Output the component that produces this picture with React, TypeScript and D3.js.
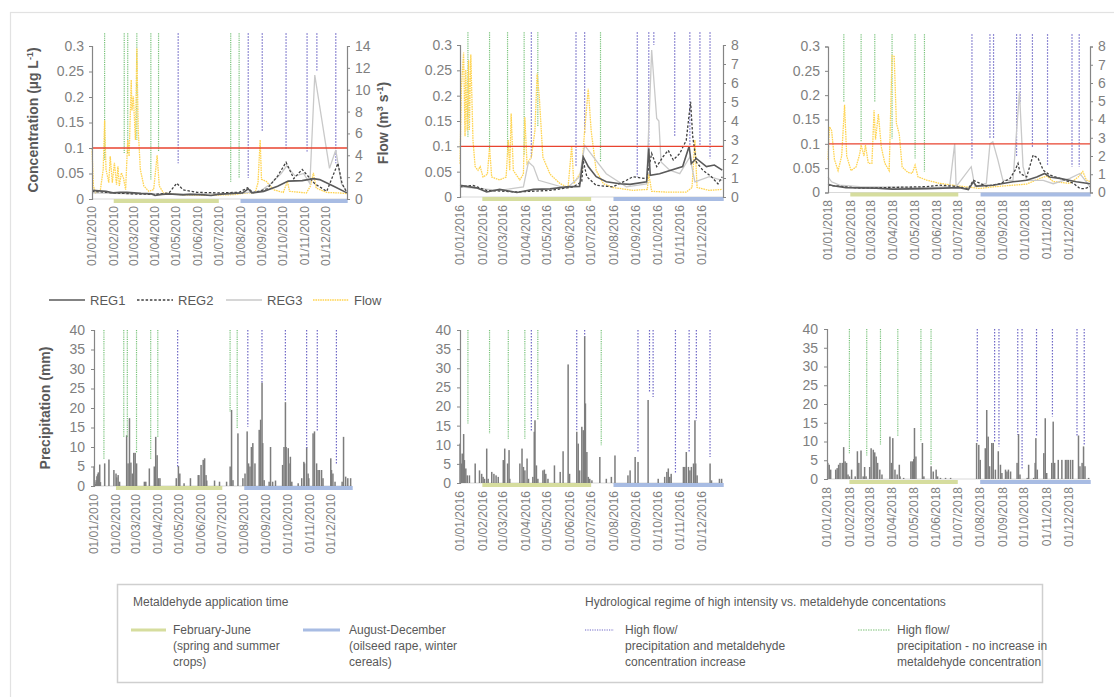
import React, {useEffect, useRef} from 'react';
import * as d3 from 'd3';

type Pt = [number, number]; // [day of year, value]

const FONT = '"Liberation Sans", Arial, sans-serif';

// y axis tick labels
const concTicks = [0, 0.05, 0.1, 0.15, 0.2, 0.25, 0.3];
const precipTicks = [0, 5, 10, 15, 20, 25, 30, 35, 40];
const limitConc = 0.1;

// application seasons, [start month, end month] (0 based, end exclusive)
const seasonSpring: Pt = [1, 6];
const seasonAutumn: Pt = [7, 12];

// ---------- 2010 ----------
const flow2010: Pt[] = [
  [0, 4.6], [2, 1.2], [5, 0.55], [12, 0.85], [16, 2.7], [18, 7.2], [20, 2.7], [24, 1.5], [26, 3.9],
  [29, 1.5], [32, 3.3], [35, 1.3], [37, 3.0], [39, 1.2], [42, 2.4], [45, 1.9], [48, 0.85], [51, 5.4],
  [53, 3.9], [56, 10.9], [57, 8.1], [59, 9.4], [62, 5.4], [64, 13.8], [66, 6.3], [69, 2.7], [74, 1.2],
  [81, 0.7], [88, 0.85], [93, 4.0], [96, 1.2], [102, 0.55], [126, 0.4], [164, 0.33], [202, 0.4],
  [221, 0.55], [233, 0.6], [237, 1.5], [240, 5.4], [242, 1.8], [249, 1.6], [259, 0.85], [273, 0.6],
  [279, 1.6], [282, 0.7], [306, 0.55], [312, 1.2], [316, 2.4], [320, 1.0], [335, 0.6], [354, 0.55], [364, 0.5],
];
const reg1_2010: Pt[] = [
  [0, 0.017], [10, 0.016], [20, 0.015], [30, 0.012], [40, 0.013], [50, 0.013], [60, 0.012], [70, 0.011],
  [85, 0.01], [90, 0.007], [100, 0.009], [110, 0.01], [120, 0.009], [130, 0.008], [140, 0.009],
  [160, 0.008], [170, 0.007], [180, 0.009], [190, 0.01], [200, 0.011], [215, 0.012], [223, 0.02],
  [228, 0.012], [245, 0.015], [265, 0.025], [280, 0.035], [300, 0.036], [316, 0.04], [325, 0.038],
  [345, 0.025], [364, 0.012],
];
const reg2_2010: Pt[] = [
  [0, 0.015], [30, 0.012], [60, 0.01], [90, 0.009], [110, 0.012], [121, 0.031], [130, 0.018],
  [150, 0.013], [180, 0.012], [210, 0.013], [222, 0.022], [230, 0.012], [250, 0.02], [265, 0.045],
  [277, 0.072], [288, 0.04], [300, 0.058], [305, 0.05], [318, 0.03], [335, 0.015], [351, 0.07],
  [357, 0.03], [364, 0.012],
];
const reg3_2010: Pt[] = [
  [0, 0.012], [60, 0.01], [200, 0.01], [240, 0.015], [255, 0.03], [270, 0.05], [278, 0.065],
  [290, 0.045], [302, 0.05], [311, 0.03], [318, 0.243], [339, 0.06], [348, 0.096], [356, 0.03], [364, 0.015],
];
const precip2010: Pt[] = [
  [0, 5], [1, 1], [2, 0.5], [3, 1.5], [4, 2.5], [5, 3], [6, 3.5], [7, 2], [8, 5.5], [9, 1], [15, 5.8],
  [21, 6.8], [28, 4.1], [31, 3.2], [32, 2.2], [34, 2.8], [36, 1.1], [46, 13], [48, 5.8], [50, 17.4],
  [52, 6], [54, 3.2], [56, 8.5], [58, 8.5], [60, 5.8], [71, 1.1], [73, 1.1], [78, 4.5], [85, 5],
  [87, 12.6], [89, 7.9], [91, 2], [93, 2], [116, 2], [119, 5.1], [121, 3.2], [127, 0.7], [136, 2],
  [147, 2.8], [148, 2.8], [151, 5.4], [154, 6.7], [156, 7.1], [158, 2.8], [159, 1.4], [170, 1.4],
  [177, 1.1], [187, 1.1], [192, 5], [194, 19.5], [196, 1.5], [203, 13.5], [210, 2], [213, 3.2],
  [216, 14], [218, 5.8], [220, 5], [222, 10], [224, 11], [227, 5.8], [233, 14.4], [235, 17],
  [237, 26.5], [238, 11], [240, 1.5], [247, 1.1], [249, 10], [252, 1.1], [256, 1.4], [266, 5.4],
  [268, 10], [270, 21.5], [271, 10], [274, 9.7], [275, 5.8], [277, 7.5], [279, 1.1], [288, 0.7],
  [293, 2], [296, 6.2], [297, 5.8], [300, 10], [302, 3.2], [303, 2], [309, 13.5], [311, 14],
  [314, 5.8], [316, 4.1], [318, 4.1], [321, 4.1], [323, 2], [334, 7.1], [335, 4.1], [337, 3.2],
  [340, 1.1], [350, 1.1], [352, 12.6], [355, 2.4], [358, 2], [362, 2],
];
// event lines: [day, value where the line stops]
const greenTop2010: Pt[] = [[18, 0.077], [46, 0.09], [51, 0.09], [64, 0.116], [84, 0.038], [95, 0.093], [198, 0.034], [210, 0.041]];
const purpleTop2010: Pt[] = [[123, 0.07], [223, 0.041], [243, 0.132], [277, 0.096], [307, 0.093], [321, 0.252], [348, 0.07]];
const greenBottom2010: Pt[] = [[14, 6.7], [42, 12.6], [47, 12.6], [60, 8.4], [80, 6.7], [90, 12.6], [192, 19], [202, 14.8]];
const purpleBottom2010: Pt[] = [[118, 5], [217, 15.2], [237, 26.3], [270, 21.6], [300, 9.7], [315, 13.9], [342, 5.8]];

// ---------- 2016 ----------
const flow2016: Pt[] = [
  [0, 1.75], [2, 5.8], [5, 7.6], [7, 3.2], [8, 6.7], [10, 3.5], [12, 7.2], [13, 3.5], [15, 7.5],
  [18, 3.0], [21, 1.6], [25, 1.4], [28, 1.6], [32, 1.05], [38, 1.2], [41, 2.6], [44, 1.05], [55, 0.9],
  [64, 1.05], [67, 3.0], [69, 1.4], [71, 4.4], [74, 1.4], [83, 0.9], [88, 1.2], [90, 4.2], [93, 1.75],
  [99, 2.1], [104, 3.5], [107, 6.5], [110, 5.3], [115, 2.1], [125, 1.2], [139, 0.7], [150, 0.5],
  [155, 2.7], [158, 0.7], [169, 1.4], [173, 3.5], [178, 5.7], [182, 3.5], [189, 1.4], [199, 0.7],
  [212, 0.5], [240, 0.35], [260, 0.4], [262, 1.2], [266, 0.3], [286, 0.26], [314, 0.26], [322, 0.5],
  [326, 3.0], [329, 0.5], [346, 0.35], [364, 0.4],
];
const reg1_2016: Pt[] = [
  [0, 0.023], [23, 0.018], [37, 0.01], [55, 0.015], [79, 0.009], [102, 0.015], [125, 0.016],
  [148, 0.02], [166, 0.021], [171, 0.079], [178, 0.06], [189, 0.04], [203, 0.03], [222, 0.026],
  [236, 0.025], [259, 0.03], [262, 0.096], [264, 0.043], [277, 0.046], [309, 0.06], [318, 0.1],
  [321, 0.066], [328, 0.076], [342, 0.06], [353, 0.063], [364, 0.053],
];
const reg2_2016: Pt[] = [
  [0, 0.02], [18, 0.023], [37, 0.013], [79, 0.01], [125, 0.013], [157, 0.02], [169, 0.03],
  [171, 0.072], [176, 0.04], [189, 0.023], [212, 0.02], [231, 0.033], [240, 0.04], [259, 0.036],
  [266, 0.086], [273, 0.06], [282, 0.08], [289, 0.092], [296, 0.073], [305, 0.086], [314, 0.112],
  [320, 0.188], [323, 0.119], [328, 0.069], [337, 0.053], [349, 0.04], [358, 0.026], [364, 0.04],
];
const reg3_2016: Pt[] = [
  [0, 0.02], [55, 0.013], [88, 0.02], [95, 0.069], [102, 0.06], [109, 0.033], [148, 0.017],
  [166, 0.04], [173, 0.102], [185, 0.079], [203, 0.046], [231, 0.02], [259, 0.026], [266, 0.29],
  [273, 0.155], [276, 0.15], [279, 0.069], [291, 0.053], [305, 0.046], [319, 0.079], [326, 0.03],
  [346, 0.04], [364, 0.033],
];
const precip2016: Pt[] = [
  [0, 10.3], [2, 5.1], [3, 7.7], [5, 12.8], [6, 6], [8, 3.8], [10, 2], [13, 2], [21, 5.1], [27, 3.3],
  [30, 2.4], [32, 1.6], [34, 1.1], [37, 9], [39, 1.1], [44, 2.9], [47, 2.4], [50, 2], [53, 1.6],
  [60, 6], [62, 9], [66, 5.1], [68, 8.6], [69, 1.1], [83, 5.1], [86, 9], [88, 4.2], [90, 3.3],
  [93, 6.4], [95, 1.1], [101, 1.6], [103, 13.4], [104, 16.4], [106, 4.6], [108, 1.1], [115, 3.3],
  [117, 3.5], [119, 2.4], [122, 1.1], [131, 4.6], [139, 2.9], [143, 8.3], [150, 31], [152, 2.4],
  [162, 13.4], [164, 10.3], [166, 3.3], [169, 14.7], [171, 13.8], [173, 38.4], [174, 20.8],
  [176, 8.1], [178, 1.6], [180, 1.1], [183, 0.7], [194, 6.8], [203, 1.1], [210, 1.6], [215, 7.2],
  [233, 2], [236, 3.3], [243, 6.8], [247, 5.5], [261, 21.7], [275, 1.1], [284, 1.6], [287, 2.9],
  [289, 3.8], [291, 1.6], [293, 2.4], [310, 4.2], [312, 4.2], [314, 8.1], [317, 4.2], [319, 3.3],
  [321, 4.2], [324, 5.1], [326, 16.4], [327, 5.1], [329, 2], [347, 5.1], [349, 0.7], [360, 1.1], [363, 1.1],
];
const greenTop2016: Pt[] = [[11, 0.119], [41, 0.092], [66, 0.082], [89, 0.082], [108, 0.138], [195, 0.069]];
const purpleTop2016: Pt[] = [[99, 0.076], [161, 0.059], [173, 0.125], [246, 0.04], [262, 0.092], [269, 0.3], [298, 0.119], [319, 0.102], [333, 0.102], [347, 0.076]];
const greenBottom2016: Pt[] = [[11, 15.5], [41, 12.9], [67, 11.6], [90, 11.6], [108, 16.4], [196, 9.9]];
const purpleBottom2016: Pt[] = [[99, 13.4], [162, 13.8], [173, 38.3], [247, 8.1], [263, 23.8], [268, 22.5], [299, 2.4], [318, 8.1], [328, 16.4], [347, 6.8]];

// ---------- 2018 ----------
const flow2018: Pt[] = [
  [0, 1.8], [2, 3.6], [5, 3.4], [9, 1.8], [14, 1.2], [19, 2.0], [23, 4.8], [26, 2.0], [32, 1.2],
  [39, 1.4], [44, 2.1], [46, 2.6], [50, 2.0], [52, 2.6], [56, 1.6], [61, 1.6], [64, 4.5], [66, 2.9],
  [70, 4.3], [74, 2.5], [79, 1.6], [85, 1.2], [89, 7.5], [92, 7.45], [95, 3.8], [99, 3.2], [103, 1.4],
  [111, 1.1], [117, 1.05], [121, 1.5], [125, 0.86], [137, 0.68], [155, 0.5], [183, 0.35], [211, 0.22],
  [229, 0.31], [257, 0.4], [276, 0.46], [294, 0.77], [304, 0.9], [313, 0.6], [336, 0.5], [348, 0.86],
  [354, 1.15], [359, 0.68], [364, 0.6],
];
const reg1_2018: Pt[] = [
  [0, 0.017], [7, 0.014], [25, 0.01], [67, 0.009], [90, 0.007], [137, 0.008], [183, 0.01], [195, 0.006],
  [202, 0.022], [206, 0.013], [229, 0.015], [257, 0.022], [276, 0.025], [290, 0.032], [301, 0.039],
  [308, 0.032], [322, 0.029], [345, 0.022], [364, 0.018],
];
const reg2_2018: Pt[] = [
  [0, 0.015], [44, 0.009], [137, 0.012], [155, 0.015], [174, 0.013], [195, 0.008], [202, 0.025],
  [220, 0.013], [239, 0.018], [253, 0.029], [260, 0.046], [264, 0.06], [267, 0.039], [276, 0.032],
  [285, 0.077], [292, 0.07], [299, 0.046], [308, 0.036], [322, 0.029], [341, 0.019], [350, 0.008],
  [357, 0.008], [364, 0.012],
];
const reg3_2018: Pt[] = [
  [0, 0.032], [5, 0.022], [16, 0.015], [44, 0.012], [137, 0.01], [169, 0.012], [176, 0.1], [178, 0.012],
  [199, 0.053], [204, 0.012], [220, 0.019], [225, 0.1], [229, 0.104], [236, 0.067], [243, 0.025],
  [257, 0.025], [266, 0.207], [271, 0.053], [276, 0.025], [299, 0.025], [313, 0.018], [336, 0.029],
  [350, 0.039], [364, 0.012],
];
const precip2018: Pt[] = [
  [1, 4.3], [3, 3.8], [5, 2.5], [12, 2.5], [14, 2.9], [16, 3.8], [18, 4.3], [21, 4.3], [23, 8.5],
  [25, 4.7], [27, 4.3], [29, 1.2], [31, 0.7], [34, 2.5], [39, 0.7], [42, 7.4], [44, 4.3], [47, 7.6],
  [50, 0.7], [52, 3.2], [54, 0.7], [59, 3.2], [61, 8.2], [64, 7.8], [66, 7.1], [68, 6], [70, 4.3],
  [73, 2.5], [76, 1.2], [87, 11.3], [89, 4.3], [91, 10.9], [94, 2.5], [97, 1.2], [100, 3.8],
  [101, 0.7], [106, 0.3], [116, 4.7], [118, 4.7], [120, 5.3], [121, 13.6], [123, 6], [132, 9.6],
  [134, 0.7], [144, 3.4], [147, 2], [151, 2.5], [153, 0.7], [157, 0.3], [164, 0.3], [171, 0.3],
  [207, 9.6], [210, 9.1], [212, 5.1], [219, 8.2], [221, 18.4], [223, 11.3], [225, 3.4], [228, 9.6],
  [230, 9.6], [233, 2.5], [237, 7.4], [240, 3.8], [242, 1.6], [247, 2.5], [249, 2], [251, 2.5],
  [254, 2], [263, 4.3], [265, 12], [267, 1.2], [277, 0.3], [279, 3.8], [286, 0.3], [288, 4.3],
  [289, 10.9], [291, 2.5], [300, 6.9], [302, 16.2], [304, 1.6], [311, 4.3], [313, 15.3], [315, 4.3],
  [320, 5.1], [325, 5.1], [330, 5.1], [332, 5.1], [334, 5.1], [337, 5.1], [340, 5.1], [348, 11.6],
  [350, 3.4], [353, 4.3], [355, 8.7], [357, 3.4], [362, 0.3],
];
const greenTop2018: Pt[] = [[22, 0.187], [46, 0.104], [65, 0.187], [89, 0.111], [121, 0.07], [134, 0.043]];
const purpleTop2018: Pt[] = [[200, 0.07], [225, 0.111], [230, 0.111], [262, 0.073], [267, 0.183], [284, 0.091], [305, 0.056], [339, 0.053], [349, 0.053]];
const greenBottom2018: Pt[] = [[31, 6.9], [55, 6], [74, 9.1], [98, 11.3], [130, 10], [144, 3.8]];
const purpleBottom2018: Pt[] = [[208, 9.6], [232, 9.6], [238, 8.7], [264, 11.8], [270, 2.5], [290, 11.3], [312, 16.7], [346, 11.3], [356, 9.1]];

const C = {
  axis: '#858585',
  tick: '#7f7f7f',
  title: '#595959',
  reg1: '#5a5a5a',
  reg2: '#404040',
  reg3: '#c9c9c9',
  flow: '#ffd451',
  limit: '#e8432f',
  green: '#78c27a',
  purple: '#6f68c6',
  spring: '#d6dd9e',
  autumn: '#a8bce3',
  bar: '#7d7d7d',
};

const topPanels = [
  {year: 2010, x0: 92, x1: 347, y0: 199, y1: 46, flowMax: 14, flowStep: 2, labelY: 206, bandY: 201,
    flow: flow2010, reg1: reg1_2010, reg2: reg2_2010, reg3: reg3_2010, green: greenTop2010, purple: purpleTop2010},
  {year: 2016, x0: 460, x1: 723, y0: 197, y1: 45, flowMax: 8, flowStep: 1, labelY: 205, bandY: 199,
    flow: flow2016, reg1: reg1_2016, reg2: reg2_2016, reg3: reg3_2016, green: greenTop2016, purple: purpleTop2016},
  {year: 2018, x0: 828, x1: 1090, y0: 192.5, y1: 46.5, flowMax: 8, flowStep: 1, labelY: 200, bandY: 194.5,
    flow: flow2018, reg1: reg1_2018, reg2: reg2_2018, reg3: reg3_2018, green: greenTop2018, purple: purpleTop2018},
];

const bottomPanels = [
  {year: 2010, x0: 94, x1: 352, y0: 486, y1: 330, labelY: 494, bandY: 488, precip: precip2010, green: greenBottom2010, purple: purpleBottom2010},
  {year: 2016, x0: 460, x1: 723, y0: 483, y1: 330, labelY: 491, bandY: 485, precip: precip2016, green: greenBottom2016, purple: purpleBottom2016},
  {year: 2018, x0: 827, x1: 1090, y0: 479, y1: 329, labelY: 487, bandY: 482, precip: precip2018, green: greenBottom2018, purple: purpleBottom2018},
];

const dayDate = (year: number, d: number) => new Date(year, 0, 1 + d);

function styleAxis(g: any) {
  g.select('.domain').attr('stroke', C.axis).attr('stroke-width', 1.2);
  g.selectAll('.tick line').attr('stroke', C.axis);
  g.selectAll('.tick text').attr('fill', C.tick).attr('font-size', 14).attr('font-family', FONT);
}

function drawSeasons(g: any, x: any, year: number, y: number, x1: number) {
  [[seasonSpring, C.spring], [seasonAutumn, C.autumn]].forEach(([s, col]: any) => {
    const a = x(new Date(year, s[0], 1));
    const b = Math.min(x(new Date(year, s[1], 1)), x1 + 1);
    g.append('rect').attr('x', a).attr('y', y - 2).attr('width', b - a).attr('height', 4).attr('fill', col);
  });
}

function drawEvents(g: any, x: any, y: any, year: number, pts: Pt[], top: number, col: string, dash: string) {
  g.append('g')
    .selectAll('line')
    .data(pts)
    .enter()
    .append('line')
    .attr('x1', (d: Pt) => x(dayDate(year, d[0])))
    .attr('x2', (d: Pt) => x(dayDate(year, d[0])))
    .attr('y1', y(top))
    .attr('y2', (d: Pt) => y(d[1]))
    .attr('stroke', col)
    .attr('stroke-width', 1.2)
    .attr('stroke-dasharray', dash);
}

function drawMonthLabels(g: any, x: any, year: number, y: number) {
  const months = d3.timeMonth.range(new Date(year, 0, 1), new Date(year, 11, 2));
  const fmt = d3.timeFormat('%d/%m/%Y');
  g.append('g')
    .selectAll('text')
    .data(months)
    .enter()
    .append('text')
    .attr('x', (d: Date) => x(d))
    .attr('y', y)
    .attr('transform', (d: Date) => `rotate(-90, ${x(d)}, ${y})`)
    .attr('text-anchor', 'end')
    .attr('dy', '0.35em')
    .attr('fill', C.tick)
    .attr('font-size', 12)
    .attr('font-family', FONT)
    .text((d: Date) => fmt(d));
}

function drawTop(svg: any, p: any) {
  const g = svg.append('g');
  const x = d3.scaleTime().domain([new Date(p.year, 0, 1), new Date(p.year, 11, 31)]).range([p.x0, p.x1]);
  const y = d3.scaleLinear().domain([0, 0.3]).range([p.y0, p.y1]);
  const yF = d3.scaleLinear().domain([0, p.flowMax]).range([p.y0, p.y1]);

  g.append('line').attr('x1', p.x0).attr('x2', p.x1).attr('y1', p.y0).attr('y2', p.y0).attr('stroke', '#d9d9d9');
  drawSeasons(g, x, p.year, p.bandY, p.x1);

  drawEvents(g, x, y, p.year, p.green, 0.325, C.green, '1.2 1');
  drawEvents(g, x, y, p.year, p.purple, 0.325, C.purple, '1.5 1.5');

  const lineF = d3.line<Pt>().x(d => x(dayDate(p.year, d[0]))).y(d => yF(d[1]));
  const lineC = d3.line<Pt>().x(d => x(dayDate(p.year, d[0]))).y(d => y(d[1]));

  g.append('path').attr('d', lineF(p.flow)).attr('fill', 'none').attr('stroke', C.flow)
    .attr('stroke-width', 1.3).attr('stroke-dasharray', '1.6 0.8');
  g.append('path').attr('d', lineC(p.reg3)).attr('fill', 'none').attr('stroke', C.reg3).attr('stroke-width', 1.3);
  g.append('path').attr('d', lineC(p.reg2)).attr('fill', 'none').attr('stroke', C.reg2)
    .attr('stroke-width', 1.3).attr('stroke-dasharray', '2.5 1.8');
  g.append('path').attr('d', lineC(p.reg1)).attr('fill', 'none').attr('stroke', C.reg1).attr('stroke-width', 1.6);

  g.append('line').attr('x1', p.x0).attr('x2', p.x1).attr('y1', y(limitConc)).attr('y2', y(limitConc))
    .attr('stroke', C.limit).attr('stroke-width', 1.3);

  const axL = g.append('g').attr('transform', `translate(${p.x0},0)`)
    .call(d3.axisLeft(y).tickValues(concTicks).tickSize(3).tickPadding(5).tickFormat(d3.format('~g') as any));
  styleAxis(axL);
  const axR = g.append('g').attr('transform', `translate(${p.x1},0)`)
    .call(d3.axisRight(yF).tickValues(d3.range(0, p.flowMax + 1, p.flowStep)).tickSize(3).tickPadding(5));
  styleAxis(axR);

  drawMonthLabels(g, x, p.year, p.labelY);
}

function drawBottom(svg: any, p: any) {
  const g = svg.append('g');
  const x = d3.scaleTime().domain([new Date(p.year, 0, 1), new Date(p.year, 11, 31)]).range([p.x0, p.x1]);
  const y = d3.scaleLinear().domain([0, 40]).range([p.y0, p.y1]);

  g.append('line').attr('x1', p.x0).attr('x2', p.x1).attr('y1', p.y0).attr('y2', p.y0).attr('stroke', '#d9d9d9');

  g.append('g')
    .selectAll('rect')
    .data(p.precip)
    .enter()
    .append('rect')
    .attr('x', (d: Pt) => x(dayDate(p.year, d[0])) - 0.7)
    .attr('y', (d: Pt) => y(d[1]))
    .attr('width', 1.5)
    .attr('height', (d: Pt) => p.y0 - y(d[1]))
    .attr('fill', C.bar);

  drawSeasons(g, x, p.year, p.bandY, p.x1);
  drawEvents(g, x, y, p.year, p.green, 40, C.green, '1.2 1');
  drawEvents(g, x, y, p.year, p.purple, 40, C.purple, '1.5 1.5');

  const axL = g.append('g').attr('transform', `translate(${p.x0},0)`)
    .call(d3.axisLeft(y).tickValues(precipTicks).tickSize(3).tickPadding(6));
  styleAxis(axL);

  drawMonthLabels(g, x, p.year, p.labelY);
}

function rotatedTitle(svg: any, cx: number, cy: number) {
  return svg.append('text')
    .attr('transform', `translate(${cx},${cy}) rotate(-90)`)
    .attr('text-anchor', 'middle')
    .attr('fill', C.title)
    .attr('font-size', 14)
    .attr('font-weight', 'bold')
    .attr('font-family', FONT);
}

const App = () => {
  const ref = useRef<SVGSVGElement>(null);

  useEffect(() => {
    const svg = d3.select(ref.current);
    svg.selectAll('*').remove();

    // outer frame
    svg.append('rect').attr('x', 10.5).attr('y', 12.5).attr('width', 1120).attr('height', 700)
      .attr('fill', 'none').attr('stroke', '#e2e2e2').attr('stroke-width', 1.2);

    topPanels.forEach(p => drawTop(svg, p));
    bottomPanels.forEach(p => drawBottom(svg, p));

    // axis titles
    const t1 = rotatedTitle(svg, 38, 120);
    t1.append('tspan').text('Concentration (µg L');
    t1.append('tspan').attr('font-size', 9).attr('dy', -5).text('-1');
    t1.append('tspan').attr('dy', 5).text(')');
    const t2 = rotatedTitle(svg, 388, 123);
    t2.append('tspan').text('Flow (m');
    t2.append('tspan').attr('font-size', 9).attr('dy', -5).text('3');
    t2.append('tspan').attr('dy', 5).text(' s');
    t2.append('tspan').attr('font-size', 9).attr('dy', -5).text('-1');
    t2.append('tspan').attr('dy', 5).text(')');
    rotatedTitle(svg, 50, 408).text('Precipitation (mm)');

    // series legend
    const leg = svg.append('g').attr('font-family', FONT).attr('font-size', 13).attr('fill', C.title);
    const items = [
      {x: 49, label: 'REG1', col: C.reg1, dash: null, w: 1.6},
      {x: 137, label: 'REG2', col: C.reg2, dash: '2.5 1.8', w: 1.3},
      {x: 226, label: 'REG3', col: C.reg3, dash: null, w: 1.3},
      {x: 313, label: 'Flow', col: C.flow, dash: '1.6 0.8', w: 1.3},
    ];
    items.forEach(it => {
      leg.append('line').attr('x1', it.x).attr('x2', it.x + 36).attr('y1', 300).attr('y2', 300)
        .attr('stroke', it.col).attr('stroke-width', it.w).attr('stroke-dasharray', it.dash);
      leg.append('text').attr('x', it.x + 41).attr('y', 304.5).text(it.label);
    });

    // legend box
    const box = svg.append('g').attr('font-family', FONT).attr('font-size', 12).attr('fill', C.title);
    box.append('rect').attr('x', 117.5).attr('y', 584.5).attr('width', 925).attr('height', 98)
      .attr('fill', '#fff').attr('stroke', '#cfcfcf').attr('stroke-width', 1.5);
    box.append('text').attr('x', 133).attr('y', 606).text('Metaldehyde application time');
    box.append('text').attr('x', 585).attr('y', 606).text('Hydrological regime of high intensity vs. metaldehyde concentations');
    const entries = [
      {x1: 131, x2: 166, tx: 173, col: C.spring, w: 3, dash: null, lines: ['February-June', '(spring and summer', 'crops)']},
      {x1: 303, x2: 340, tx: 349, col: C.autumn, w: 3, dash: null, lines: ['August-December', '(oilseed rape, winter', 'cereals)']},
      {x1: 585, x2: 614, tx: 625, col: C.purple, w: 1.2, dash: '1.2 1.2', lines: ['High flow/', 'precipitation and metaldehyde', 'concentration increase']},
      {x1: 858, x2: 890, tx: 897, col: '#a9d6a6', w: 1.4, dash: '1.5 1', lines: ['High flow/', 'precipitation - no increase in', 'metaldehyde concentration']},
    ];
    entries.forEach(e => {
      box.append('line').attr('x1', e.x1).attr('x2', e.x2).attr('y1', 630).attr('y2', 630)
        .attr('stroke', e.col).attr('stroke-width', e.w).attr('stroke-dasharray', e.dash);
      e.lines.forEach((l, i) => box.append('text').attr('x', e.tx).attr('y', 634 + i * 16).text(l));
    });
  }, []);

  return (
    <svg
      ref={ref}
      width={1114}
      height={697}
      style={{position: 'absolute', left: 0, top: 0, background: '#fff'}}
    />
  );
};

export default App;
